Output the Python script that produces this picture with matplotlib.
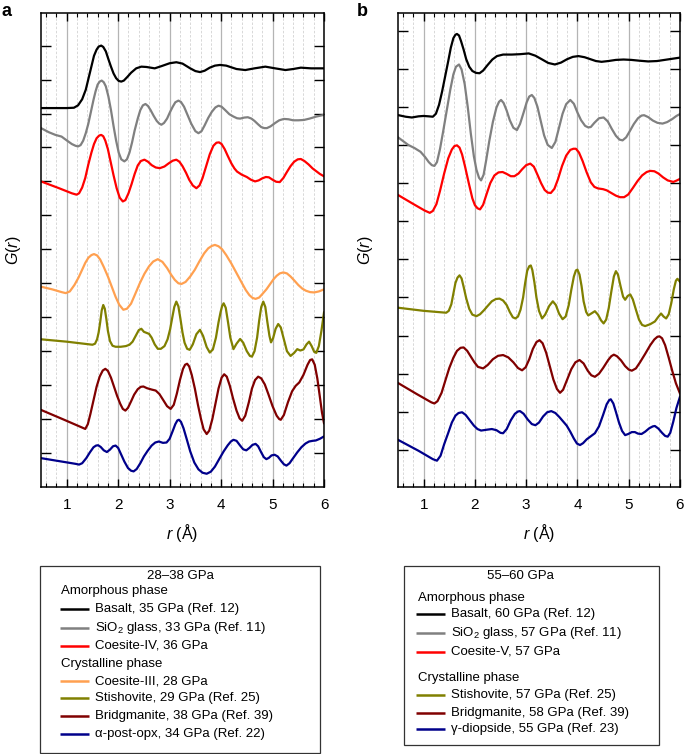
import matplotlib
matplotlib.use("Agg")
import matplotlib.pyplot as plt
from matplotlib.patches import Rectangle
from matplotlib.ticker import MultipleLocator

plt.rcParams['font.family'] = ['Liberation Sans', 'DejaVu Sans']
plt.rcParams['mathtext.fontset'] = 'custom'
plt.rcParams['mathtext.rm'] = 'Liberation Sans'
plt.rcParams['mathtext.it'] = 'Liberation Sans:italic'

# (r, G) points; curves are stacked with their own offsets

# ---- panel a : 28-38 GPa ----
basalt_a = [(0.5, 10.16), (1.0, 10.16), (1.14, 10.17), (1.22, 10.24), (1.30, 10.42), (1.37, 10.7), (1.45, 11.2),
            (1.53, 11.7), (1.58, 11.88), (1.62, 11.97), (1.67, 12.0), (1.71, 11.96), (1.76, 11.83), (1.81, 11.6),
            (1.86, 11.38), (1.91, 11.18), (1.96, 11.04), (2.01, 10.96), (2.06, 10.94), (2.11, 10.97), (2.18, 11.08),
            (2.25, 11.2), (2.35, 11.33), (2.45, 11.38), (2.55, 11.37), (2.71, 11.33), (2.85, 11.40), (3.00, 11.48),
            (3.13, 11.51), (3.25, 11.47), (3.40, 11.33), (3.50, 11.25), (3.59, 11.22), (3.68, 11.26), (3.78, 11.35),
            (3.88, 11.41), (3.98, 11.43), (4.10, 11.41), (4.20, 11.36), (4.30, 11.31), (4.47, 11.28), (4.65, 11.33),
            (4.86, 11.38), (5.05, 11.33), (5.25, 11.28), (5.40, 11.31), (5.55, 11.35), (5.75, 11.33), (6.0, 11.33)]

sio2_a = [(0.50, 9.57), (0.65, 9.45), (0.78, 9.37), (0.90, 9.32), (0.98, 9.23), (1.10, 9.10), (1.17, 9.05),
          (1.22, 9.03), (1.27, 9.07), (1.32, 9.2), (1.37, 9.42), (1.42, 9.7), (1.47, 10.05), (1.52, 10.4),
          (1.56, 10.65), (1.60, 10.85), (1.64, 10.94), (1.68, 10.97), (1.72, 10.92), (1.76, 10.8), (1.81, 10.5),
          (1.86, 10.1), (1.91, 9.63), (1.96, 9.2), (2.01, 8.85), (2.06, 8.65), (2.12, 8.59), (2.17, 8.65),
          (2.22, 8.85), (2.27, 9.15), (2.32, 9.5), (2.38, 9.85), (2.43, 10.1), (2.48, 10.24), (2.53, 10.28),
          (2.58, 10.22), (2.63, 10.1), (2.69, 9.93), (2.75, 9.78), (2.80, 9.7), (2.84, 9.67), (2.89, 9.72),
          (2.95, 9.85), (3.01, 10.05), (3.06, 10.2), (3.11, 10.33), (3.17, 10.38), (3.22, 10.34), (3.28, 10.2),
          (3.35, 9.95), (3.42, 9.7), (3.50, 9.48), (3.56, 9.42), (3.62, 9.48), (3.68, 9.65), (3.75, 9.87),
          (3.82, 10.05), (3.89, 10.18), (3.95, 10.23), (4.01, 10.2), (4.08, 10.1), (4.16, 9.98), (4.24, 9.91),
          (4.31, 9.86), (4.37, 9.85), (4.45, 9.88), (4.52, 9.89), (4.59, 9.85), (4.65, 9.78), (4.72, 9.68),
          (4.78, 9.6), (4.84, 9.57), (4.89, 9.57), (4.96, 9.62), (5.05, 9.72), (5.13, 9.8), (5.22, 9.84),
          (5.31, 9.83), (5.40, 9.8), (5.50, 9.8), (5.61, 9.81), (5.72, 9.85), (5.85, 9.91), (6.0, 9.96)]

coe4_a = [(0.5, 8.0), (0.85, 7.8), (1.10, 7.65), (1.19, 7.61), (1.24, 7.65), (1.30, 7.82), (1.36, 8.1), (1.42, 8.5),
          (1.48, 8.85), (1.53, 9.1), (1.58, 9.27), (1.63, 9.35), (1.67, 9.37), (1.71, 9.33), (1.75, 9.2),
          (1.80, 8.95), (1.85, 8.6), (1.91, 8.18), (1.97, 7.8), (2.03, 7.52), (2.09, 7.41), (2.14, 7.45),
          (2.20, 7.65), (2.26, 7.92), (2.32, 8.22), (2.38, 8.47), (2.44, 8.6), (2.51, 8.64), (2.58, 8.58),
          (2.65, 8.48), (2.73, 8.41), (2.81, 8.39), (2.90, 8.44), (2.98, 8.53), (3.06, 8.61), (3.13, 8.64),
          (3.19, 8.58), (3.25, 8.45), (3.32, 8.25), (3.38, 8.05), (3.45, 7.88), (3.52, 7.80), (3.58, 7.88),
          (3.64, 8.1), (3.71, 8.45), (3.78, 8.8), (3.85, 9.05), (3.91, 9.14), (3.96, 9.15), (4.01, 9.1),
          (4.07, 8.95), (4.13, 8.75), (4.20, 8.53), (4.26, 8.38), (4.31, 8.29), (4.40, 8.2), (4.50, 8.13),
          (4.58, 8.05), (4.66, 8.0), (4.73, 8.03), (4.80, 8.09), (4.87, 8.13), (4.93, 8.12), (5.00, 8.05),
          (5.07, 7.99), (5.14, 7.98), (5.21, 8.1), (5.28, 8.28), (5.35, 8.45), (5.42, 8.58), (5.49, 8.65),
          (5.55, 8.66), (5.62, 8.6), (5.70, 8.5), (5.78, 8.38), (5.85, 8.3), (5.92, 8.22), (6.0, 8.15)]

coe3_a = [(0.5, 4.90), (0.72, 4.82), (0.90, 4.74), (0.98, 4.71), (1.06, 4.76), (1.15, 4.95), (1.23, 5.17),
          (1.30, 5.4), (1.36, 5.6), (1.42, 5.75), (1.48, 5.83), (1.53, 5.86), (1.59, 5.82), (1.65, 5.7),
          (1.72, 5.48), (1.80, 5.2), (1.88, 4.88), (1.95, 4.6), (2.02, 4.37), (2.10, 4.22), (2.17, 4.25),
          (2.25, 4.4), (2.33, 4.68), (2.42, 5.0), (2.51, 5.28), (2.60, 5.5), (2.68, 5.64), (2.77, 5.71),
          (2.86, 5.63), (2.95, 5.45), (3.03, 5.25), (3.10, 5.1), (3.17, 5.0), (3.23, 4.98), (3.31, 5.04),
          (3.40, 5.2), (3.49, 5.4), (3.58, 5.65), (3.67, 5.88), (3.75, 6.03), (3.82, 6.1), (3.88, 6.13),
          (3.95, 6.09), (4.02, 6.0), (4.10, 5.83), (4.20, 5.58), (4.30, 5.3), (4.40, 5.02), (4.48, 4.8),
          (4.55, 4.65), (4.61, 4.57), (4.67, 4.54), (4.74, 4.58), (4.80, 4.68), (4.88, 4.82), (4.95, 4.97),
          (5.02, 5.12), (5.08, 5.22), (5.14, 5.29), (5.21, 5.32), (5.28, 5.29), (5.35, 5.2), (5.43, 5.07),
          (5.50, 4.95), (5.58, 4.84), (5.65, 4.78), (5.73, 4.74), (5.81, 4.73), (5.90, 4.76), (6.0, 4.82)]

stish_a = [(0.5, 3.35), (1.0, 3.28), (1.50, 3.19), (1.55, 3.22), (1.59, 3.35), (1.62, 3.55), (1.65, 3.85),
           (1.68, 4.2), (1.71, 4.36), (1.74, 4.25), (1.77, 3.95), (1.80, 3.6), (1.84, 3.3), (1.89, 3.16),
           (1.95, 3.13), (2.05, 3.13), (2.15, 3.15), (2.22, 3.19), (2.28, 3.28), (2.34, 3.45), (2.40, 3.62),
           (2.45, 3.66), (2.50, 3.57), (2.55, 3.54), (2.60, 3.51), (2.65, 3.4), (2.71, 3.2), (2.77, 3.07),
           (2.83, 3.07), (2.90, 3.15), (2.96, 3.35), (3.01, 3.65), (3.05, 3.98), (3.09, 4.3), (3.13, 4.46),
           (3.17, 4.32), (3.21, 3.95), (3.25, 3.55), (3.29, 3.25), (3.34, 3.07), (3.39, 3.04), (3.45, 3.2),
           (3.52, 3.5), (3.59, 3.63), (3.65, 3.45), (3.72, 3.12), (3.78, 2.96), (3.84, 3.05), (3.90, 3.4),
           (3.95, 3.85), (3.99, 4.15), (4.02, 4.33), (4.05, 4.41), (4.09, 4.28), (4.13, 3.9), (4.18, 3.4),
           (4.24, 3.06), (4.30, 3.22), (4.37, 3.36), (4.43, 3.25), (4.50, 3.0), (4.56, 2.86), (4.60, 2.84),
           (4.65, 3.0), (4.70, 3.4), (4.74, 3.9), (4.78, 4.3), (4.82, 4.46), (4.86, 4.3), (4.90, 3.85),
           (4.94, 3.45), (4.97, 3.26), (5.01, 3.38), (5.06, 3.66), (5.11, 3.80), (5.16, 3.7), (5.22, 3.35),
           (5.28, 3.0), (5.35, 2.86), (5.42, 2.95), (5.48, 3.06), (5.54, 3.02), (5.60, 3.05), (5.66, 3.2),
           (5.71, 3.28), (5.76, 3.15), (5.81, 2.98), (5.85, 2.95), (5.90, 3.15), (5.95, 3.6), (6.0, 4.14)]

brg_a = [(0.5, 1.27), (0.95, 0.98), (1.30, 0.75), (1.36, 0.71), (1.41, 0.85), (1.46, 1.15), (1.52, 1.55),
         (1.58, 1.95), (1.64, 2.25), (1.70, 2.43), (1.75, 2.48), (1.80, 2.42), (1.86, 2.22), (1.92, 1.95),
         (1.98, 1.68), (2.04, 1.45), (2.09, 1.3), (2.14, 1.25), (2.19, 1.33), (2.25, 1.52), (2.31, 1.72),
         (2.38, 1.88), (2.44, 1.95), (2.49, 1.96), (2.56, 1.91), (2.65, 1.87), (2.73, 1.84), (2.80, 1.74),
         (2.88, 1.55), (2.95, 1.38), (3.02, 1.30), (3.08, 1.42), (3.14, 1.75), (3.20, 2.15), (3.26, 2.48),
         (3.30, 2.6), (3.34, 2.63), (3.38, 2.55), (3.43, 2.3), (3.49, 1.9), (3.55, 1.42), (3.61, 1.0),
         (3.66, 0.7), (3.72, 0.56), (3.77, 0.66), (3.83, 1.0), (3.89, 1.45), (3.95, 1.9), (4.01, 2.22),
         (4.06, 2.32), (4.11, 2.25), (4.17, 1.98), (4.23, 1.62), (4.30, 1.25), (4.36, 1.02), (4.41, 0.95),
         (4.47, 1.1), (4.54, 1.5), (4.60, 1.9), (4.66, 2.15), (4.72, 2.25), (4.78, 2.2), (4.85, 2.02),
         (4.92, 1.73), (5.00, 1.38), (5.08, 1.1), (5.13, 1.0), (5.16, 0.98), (5.22, 1.12), (5.30, 1.5),
         (5.38, 1.82), (5.45, 1.98), (5.52, 2.08), (5.60, 2.3), (5.68, 2.6), (5.73, 2.74), (5.77, 2.76),
         (5.82, 2.6), (5.87, 2.2), (5.92, 1.65), (5.96, 1.2), (6.0, 0.88)]

opx_a = [(0.5, -0.15), (0.9, -0.25), (1.18, -0.32), (1.24, -0.34), (1.30, -0.3), (1.38, -0.15), (1.45, 0.02),
         (1.52, 0.17), (1.57, 0.22), (1.61, 0.23), (1.66, 0.18), (1.72, 0.08), (1.78, 0.03), (1.84, 0.1),
         (1.90, 0.2), (1.95, 0.22), (2.00, 0.15), (2.06, -0.05), (2.12, -0.25), (2.19, -0.44), (2.25, -0.52),
         (2.30, -0.54), (2.36, -0.47), (2.43, -0.3), (2.50, -0.1), (2.57, 0.06), (2.65, 0.22), (2.72, 0.31),
         (2.79, 0.34), (2.87, 0.3), (2.94, 0.31), (3.00, 0.42), (3.06, 0.65), (3.11, 0.85), (3.15, 0.96),
         (3.18, 0.98), (3.22, 0.92), (3.27, 0.73), (3.33, 0.42), (3.40, 0.05), (3.48, -0.28), (3.56, -0.48),
         (3.64, -0.58), (3.72, -0.61), (3.80, -0.55), (3.88, -0.4), (3.97, -0.16), (4.05, 0.05), (4.13, 0.23),
         (4.19, 0.34), (4.24, 0.39), (4.30, 0.36), (4.37, 0.22), (4.43, 0.11), (4.49, 0.08), (4.55, 0.15),
         (4.61, 0.24), (4.67, 0.27), (4.72, 0.2), (4.78, 0.02), (4.83, -0.12), (4.88, -0.18), (4.93, -0.14),
         (4.98, -0.07), (5.04, -0.05), (5.10, -0.1), (5.17, -0.24), (5.22, -0.33), (5.27, -0.37), (5.33, -0.3),
         (5.40, -0.15), (5.48, 0.02), (5.56, 0.17), (5.64, 0.28), (5.71, 0.34), (5.78, 0.36), (5.84, 0.37),
         (5.92, 0.42), (6.0, 0.49)]

# ---- panel b : 55-60 GPa ----
basalt_b = [(0.51, 8.78), (0.65, 8.74), (0.77, 8.72), (0.90, 8.75), (1.0, 8.76), (1.10, 8.75), (1.18, 8.74),
            (1.24, 8.82), (1.30, 9.05), (1.36, 9.4), (1.42, 9.8), (1.48, 10.2), (1.53, 10.55), (1.58, 10.8),
            (1.62, 10.89), (1.65, 10.91), (1.69, 10.87), (1.73, 10.72), (1.78, 10.5), (1.83, 10.25),
            (1.89, 10.05), (1.95, 9.94), (2.02, 9.89), (2.09, 9.88), (2.16, 9.95), (2.25, 10.1), (2.34, 10.24),
            (2.43, 10.33), (2.55, 10.37), (2.72, 10.37), (2.88, 10.38), (3.05, 10.40), (3.18, 10.34),
            (3.30, 10.25), (3.43, 10.15), (3.56, 10.11), (3.68, 10.16), (3.80, 10.25), (3.91, 10.31),
            (4.02, 10.33), (4.14, 10.3), (4.25, 10.25), (4.36, 10.2), (4.47, 10.18), (4.60, 10.2), (4.75, 10.23),
            (4.90, 10.24), (5.05, 10.23), (5.20, 10.21), (5.38, 10.19), (5.55, 10.2), (5.70, 10.23),
            (5.85, 10.26), (6.0, 10.29)]

sio2_b = [(0.51, 8.19), (0.60, 8.1), (0.70, 8.0), (0.82, 7.92), (0.94, 7.82), (1.03, 7.68), (1.10, 7.55),
          (1.16, 7.47), (1.21, 7.45), (1.26, 7.55), (1.32, 7.9), (1.38, 8.35), (1.45, 8.9), (1.52, 9.45),
          (1.58, 9.85), (1.63, 10.05), (1.69, 10.11), (1.74, 9.98), (1.80, 9.6), (1.86, 9.0), (1.92, 8.3),
          (1.98, 7.7), (2.03, 7.35), (2.08, 7.14), (2.12, 7.07), (2.17, 7.22), (2.22, 7.6), (2.28, 8.1),
          (2.35, 8.6), (2.42, 8.98), (2.47, 9.13), (2.51, 9.18), (2.56, 9.1), (2.62, 8.9), (2.68, 8.65),
          (2.75, 8.45), (2.82, 8.39), (2.88, 8.55), (2.95, 8.85), (3.01, 9.12), (3.06, 9.27), (3.11, 9.31),
          (3.16, 9.23), (3.22, 9.0), (3.28, 8.65), (3.35, 8.25), (3.42, 8.0), (3.50, 7.92), (3.57, 8.08),
          (3.64, 8.45), (3.71, 8.82), (3.78, 9.07), (3.86, 9.18), (3.93, 9.08), (4.00, 8.85), (4.07, 8.65),
          (4.15, 8.5), (4.21, 8.46), (4.26, 8.47), (4.33, 8.58), (4.42, 8.7), (4.51, 8.72), (4.59, 8.62),
          (4.67, 8.42), (4.75, 8.24), (4.82, 8.14), (4.88, 8.12), (4.95, 8.2), (5.02, 8.36), (5.10, 8.55),
          (5.18, 8.7), (5.25, 8.77), (5.30, 8.78), (5.38, 8.73), (5.47, 8.64), (5.56, 8.58), (5.66, 8.56),
          (5.75, 8.6), (5.85, 8.68), (5.93, 8.76), (6.0, 8.81)]

coe5_b = [(0.51, 6.68), (0.80, 6.45), (1.02, 6.28), (1.12, 6.22), (1.18, 6.27), (1.25, 6.45), (1.32, 6.8),
          (1.40, 7.25), (1.48, 7.65), (1.55, 7.88), (1.60, 7.97), (1.65, 7.99), (1.70, 7.93), (1.75, 7.75),
          (1.81, 7.42), (1.88, 7.0), (1.95, 6.6), (2.00, 6.42), (2.05, 6.34), (2.10, 6.31), (2.16, 6.43),
          (2.23, 6.72), (2.30, 7.0), (2.38, 7.2), (2.46, 7.28), (2.54, 7.29), (2.62, 7.24), (2.70, 7.18),
          (2.77, 7.18), (2.85, 7.25), (2.92, 7.36), (3.00, 7.47), (3.08, 7.51), (3.15, 7.43), (3.22, 7.22),
          (3.29, 7.0), (3.36, 6.82), (3.42, 6.75), (3.48, 6.74), (3.55, 6.85), (3.62, 7.1), (3.70, 7.45),
          (3.78, 7.72), (3.86, 7.87), (3.92, 7.9), (3.97, 7.90), (4.03, 7.8), (4.10, 7.58), (4.18, 7.28),
          (4.26, 7.02), (4.33, 6.9), (4.40, 6.86), (4.50, 6.84), (4.57, 6.81), (4.66, 6.74), (4.75, 6.67),
          (4.83, 6.63), (4.91, 6.63), (4.99, 6.7), (5.08, 6.87), (5.17, 7.05), (5.26, 7.2), (5.35, 7.29),
          (5.42, 7.32), (5.50, 7.31), (5.58, 7.25), (5.67, 7.15), (5.76, 7.07), (5.87, 7.03), (5.94, 7.07),
          (6.0, 7.11)]

stish_b = [(0.51, 3.73), (1.0, 3.65), (1.44, 3.60), (1.49, 3.65), (1.54, 3.82), (1.58, 4.1), (1.62, 4.38),
           (1.66, 4.52), (1.70, 4.58), (1.74, 4.5), (1.78, 4.28), (1.83, 3.98), (1.89, 3.7), (1.95, 3.55),
           (2.03, 3.51), (2.10, 3.56), (2.18, 3.67), (2.25, 3.78), (2.33, 3.9), (2.41, 3.96), (2.48, 3.97),
           (2.55, 3.92), (2.62, 3.8), (2.68, 3.62), (2.74, 3.48), (2.79, 3.45), (2.84, 3.5), (2.89, 3.68),
           (2.94, 4.0), (2.98, 4.38), (3.02, 4.7), (3.06, 4.82), (3.09, 4.84), (3.12, 4.72), (3.16, 4.4),
           (3.20, 4.0), (3.25, 3.65), (3.31, 3.45), (3.37, 3.55), (3.45, 3.78), (3.52, 3.90), (3.58, 3.8),
           (3.64, 3.58), (3.71, 3.43), (3.77, 3.5), (3.83, 3.8), (3.88, 4.2), (3.93, 4.55), (3.97, 4.71),
           (4.00, 4.73), (4.04, 4.6), (4.08, 4.3), (4.12, 3.9), (4.17, 3.62), (4.21, 3.53), (4.27, 3.58),
           (4.34, 3.64), (4.40, 3.55), (4.46, 3.4), (4.51, 3.32), (4.56, 3.42), (4.61, 3.72), (4.66, 4.15),
           (4.71, 4.55), (4.75, 4.69), (4.79, 4.6), (4.84, 4.3), (4.89, 4.02), (4.93, 3.94), (4.98, 4.04),
           (5.03, 4.08), (5.08, 3.95), (5.14, 3.68), (5.20, 3.42), (5.26, 3.28), (5.32, 3.25), (5.42, 3.3),
           (5.51, 3.37), (5.57, 3.48), (5.63, 3.58), (5.68, 3.5), (5.73, 3.45), (5.78, 3.56), (5.83, 3.85),
           (5.88, 4.22), (5.92, 4.44), (5.95, 4.49), (6.0, 4.41)]

brg_b = [(0.51, 1.75), (0.85, 1.48), (1.15, 1.25), (1.21, 1.22), (1.27, 1.28), (1.35, 1.5), (1.43, 1.85),
         (1.50, 2.15), (1.58, 2.42), (1.65, 2.6), (1.72, 2.68), (1.78, 2.69), (1.85, 2.6), (1.92, 2.45),
         (1.99, 2.3), (2.06, 2.18), (2.16, 2.14), (2.25, 2.23), (2.35, 2.38), (2.45, 2.47), (2.55, 2.49),
         (2.65, 2.43), (2.75, 2.3), (2.84, 2.15), (2.92, 2.09), (2.99, 2.17), (3.06, 2.38), (3.13, 2.65),
         (3.20, 2.83), (3.26, 2.88), (3.32, 2.8), (3.39, 2.55), (3.46, 2.2), (3.53, 1.85), (3.60, 1.6),
         (3.66, 1.50), (3.72, 1.58), (3.80, 1.85), (3.88, 2.12), (3.96, 2.3), (4.04, 2.36), (4.12, 2.27),
         (4.20, 2.08), (4.27, 1.96), (4.34, 1.92), (4.42, 2.0), (4.50, 2.15), (4.60, 2.36), (4.66, 2.46),
         (4.71, 2.50), (4.77, 2.46), (4.85, 2.35), (4.93, 2.2), (5.00, 2.11), (5.06, 2.08), (5.14, 2.14),
         (5.22, 2.3), (5.32, 2.52), (5.42, 2.75), (5.50, 2.9), (5.56, 2.97), (5.60, 2.98), (5.65, 2.93),
         (5.71, 2.75), (5.78, 2.42), (5.85, 2.07), (5.92, 1.75), (6.0, 1.48)]

diop_b = [(0.51, 0.26), (0.90, -0.02), (1.18, -0.24), (1.26, -0.28), (1.33, -0.15), (1.40, 0.15), (1.48, 0.45),
          (1.55, 0.72), (1.62, 0.9), (1.68, 0.97), (1.75, 0.99), (1.82, 0.92), (1.90, 0.78), (1.98, 0.64),
          (2.05, 0.55), (2.12, 0.51), (2.22, 0.53), (2.33, 0.55), (2.42, 0.52), (2.50, 0.45), (2.55, 0.44),
          (2.62, 0.55), (2.70, 0.78), (2.78, 0.95), (2.84, 1.01), (2.88, 1.02), (2.95, 0.95), (3.03, 0.8),
          (3.11, 0.68), (3.18, 0.65), (3.25, 0.72), (3.33, 0.88), (3.41, 0.99), (3.49, 1.02), (3.57, 0.97),
          (3.65, 0.86), (3.72, 0.75), (3.79, 0.64), (3.86, 0.48), (3.93, 0.3), (3.99, 0.17), (4.05, 0.13),
          (4.11, 0.18), (4.18, 0.28), (4.26, 0.36), (4.34, 0.44), (4.42, 0.62), (4.50, 0.92), (4.57, 1.2),
          (4.62, 1.31), (4.65, 1.33), (4.70, 1.22), (4.75, 1.0), (4.81, 0.72), (4.87, 0.5), (4.93, 0.39),
          (4.99, 0.42), (5.06, 0.47), (5.12, 0.47), (5.18, 0.43), (5.25, 0.42), (5.32, 0.48), (5.40, 0.57),
          (5.47, 0.62), (5.51, 0.63), (5.58, 0.56), (5.65, 0.45), (5.71, 0.37), (5.76, 0.35), (5.81, 0.45),
          (5.87, 0.75), (5.93, 1.1), (6.0, 1.40)]

col_basalt = '#000000'
col_sio2 = '#808080'
col_coe = '#ff0000'
col_coe3 = '#ffa050'
col_stish = '#808000'
col_brg = '#800000'
col_blue = '#00008b'

labels_a = ['Basalt, 35 GPa (Ref. 12)', 'SiO$_2$ glass, 33 GPa (Ref. 11)', 'Coesite-IV, 36 GPa',
            'Coesite-III, 28 GPa', 'Stishovite, 29 GPa (Ref. 25)', 'Bridgmanite, 38 GPa (Ref. 39)',
            '\u03b1-post-opx, 34 GPa (Ref. 22)']
labels_b = ['Basalt, 60 GPa (Ref. 12)', 'SiO$_2$ glass, 57 GPa (Ref. 11)', 'Coesite-V, 57 GPa',
            'Stishovite, 57 GPa (Ref. 25)', 'Bridgmanite, 58 GPa (Ref. 39)', '\u03b3-diopside, 55 GPa (Ref. 23)']

curves_a = [(basalt_a, col_basalt), (sio2_a, col_sio2), (coe4_a, col_coe), (coe3_a, col_coe3),
            (stish_a, col_stish), (brg_a, col_brg), (opx_a, col_blue)]
curves_b = [(basalt_b, col_basalt), (sio2_b, col_sio2), (coe5_b, col_coe),
            (stish_b, col_stish), (brg_b, col_brg), (diop_b, col_blue)]

W, H = 685, 754
fig = plt.figure(figsize=(W / 100, H / 100), dpi=100)


def make_axes(x0, x1, y0, y1, ylim, nticks):
    ax = fig.add_axes([x0 / W, 1 - y1 / H, (x1 - x0) / W, (y1 - y0) / H])
    ax.set_xlim(0.5, 6)
    ax.set_ylim(*ylim)
    ax.xaxis.set_major_locator(MultipleLocator(1))
    ax.xaxis.set_minor_locator(MultipleLocator(0.2))
    ax.set_yticks(range(nticks))
    ax.set_yticklabels([])
    ax.grid(True, which='major', axis='x', color='#b4b4b4', lw=0.9, ls='-')
    ax.grid(True, which='minor', axis='x', color='#d2d2d2', lw=0.6, ls=(0, (3, 2)))
    ax.set_axisbelow(True)
    ax.tick_params(axis='x', which='major', direction='in', top=True, length=6, width=1, labelsize=11, pad=8)
    ax.tick_params(axis='x', which='minor', direction='in', top=True, length=3, width=0.8)
    ax.tick_params(axis='y', which='major', direction='in', right=True, length=7, width=1)
    for s in ax.spines.values():
        s.set_linewidth(1.1)
    ax.set_xlabel('$r$ (\u00c5)', fontsize=11.5, labelpad=7)
    return ax


def draw(ax, curves):
    for pts, color in curves:
        r, g = zip(*pts)
        ax.plot(r, g, color=color, lw=1.6, solid_joinstyle='round')


ax_a = make_axes(41, 324, 13, 487, (-1.0, 12.96), 13)
draw(ax_a, curves_a)
ax_b = make_axes(398, 680, 13, 487, (-0.97, 11.46), 12)
draw(ax_b, curves_b)

# overlay in pixel coordinates for panel letters, y labels and legend boxes
ov = fig.add_axes([0, 0, 1, 1], zorder=-1)
ov.set_xlim(0, W)
ov.set_ylim(H, 0)
ov.axis('off')
ov.text(1, 12, 'a', fontsize=13, fontweight='bold', va='center', ha='left')
ov.text(357, 12, 'b', fontsize=13, fontweight='bold', va='center', ha='left')
ov.text(14, 250, '$G$($r$)', fontsize=11.5, rotation=90, va='center', ha='center')
ov.text(366, 250, '$G$($r$)', fontsize=11.5, rotation=90, va='center', ha='center')


def legend_box(x0, x1, y0, y1, title, title_x, rows):
    ov.add_patch(Rectangle((x0, y0), x1 - x0, y1 - y0, fill=False, ec='#333333', lw=0.9))
    ov.text(title_x, y0 + 10, title, fontsize=9.5, ha='center', va='center')
    for kind, y, x, text, color in rows:
        if kind == 'head':
            ov.text(x, y, text, fontsize=9.5, ha='left', va='center')
        else:
            ov.plot([x, x + 29], [y, y], color=color, lw=1.8, solid_capstyle='butt')
            ov.text(x + 35, y, text, fontsize=9.5, ha='left', va='center')


rows_a = [('head', 591, 61, 'Amorphous phase', None),
          ('line', 609, 60, labels_a[0], col_basalt),
          ('line', 628, 60, labels_a[1], col_sio2),
          ('line', 646, 60, labels_a[2], col_coe),
          ('head', 664, 61, 'Crystalline phase', None),
          ('line', 681, 60, labels_a[3], col_coe3),
          ('line', 698, 60, labels_a[4], col_stish),
          ('line', 716, 60, labels_a[5], col_brg),
          ('line', 734, 60, labels_a[6], col_blue)]
legend_box(40, 320, 566, 753, '28\u201338 GPa', 180, rows_a)

rows_b = [('head', 598, 418, 'Amorphous phase', None),
          ('line', 614, 416, labels_b[0], col_basalt),
          ('line', 633, 416, labels_b[1], col_sio2),
          ('line', 652, 416, labels_b[2], col_coe),
          ('head', 678, 418, 'Crystalline phase', None),
          ('line', 695, 416, labels_b[3], col_stish),
          ('line', 713, 416, labels_b[4], col_brg),
          ('line', 729, 416, labels_b[5], col_blue)]
legend_box(404, 659, 566, 745, '55\u201360 GPa', 520, rows_b)

fig.savefig('out.png', dpi=100)
